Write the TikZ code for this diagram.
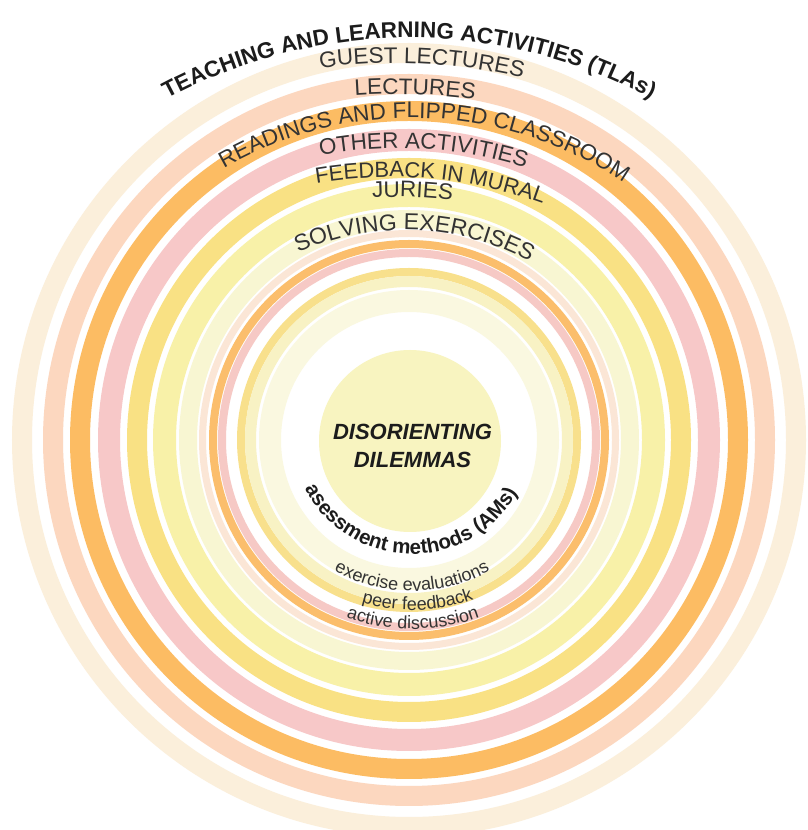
\documentclass[tikz,border=0pt]{standalone}
\usepackage{fontspec}
\setmainfont{Liberation Sans}
\usetikzlibrary{decorations.text}
\definecolor{ringA}{HTML}{FBEFDB}
\definecolor{ringB}{HTML}{FCD7BF}
\definecolor{ringC}{HTML}{FCBC63}
\definecolor{ringD}{HTML}{F7C8C8}
\definecolor{ringE}{HTML}{F9E184}
\definecolor{ringF}{HTML}{F8F1A8}
\definecolor{ringG}{HTML}{F8F6D2}
\definecolor{ringH}{HTML}{FBE6D6}
\definecolor{ringI}{HTML}{FBBE6C}
\definecolor{ringJ}{HTML}{F6C9C5}
\definecolor{ringK}{HTML}{F8E08C}
\definecolor{ringL}{HTML}{F8F2C4}
\definecolor{ringM}{HTML}{FAF8E0}
\definecolor{discc}{HTML}{F8F4C0}
\definecolor{labelc}{HTML}{333333}
\definecolor{titlec}{HTML}{1C1C1C}
\tikzset{
  ringline/.style={line width=#1},
  disclabel/.style={font=\fontsize{22}{28}\selectfont\bfseries\itshape, text=titlec, align=center, inner sep=0pt},
}
\begin{document}
\begin{tikzpicture}[x=1pt,y=1pt]
\useasboundingbox (0,0) rectangle (807,830);
\fill[white] (0,0) rectangle (807,830);
\clip (0,0) rectangle (807,830);
\coordinate (c) at (409,390);
% rings
\draw[ringA, ringline=20] (c) circle[radius=387];
\draw[ringB, ringline=20] (c) circle[radius=356];
\draw[ringC, ringline=20] (c) circle[radius=329];
\draw[ringD, ringline=22] (c) circle[radius=300];
\draw[ringE, ringline=20] (c) circle[radius=272];
\draw[ringF, ringline=23] (c) circle[radius=244.5];
\draw[ringG, ringline=18] (c) circle[radius=221];
\draw[ringH, ringline=7] (c) circle[radius=206.5];
\draw[ringI, ringline=8] (c) circle[radius=196];
\draw[ringJ, ringline=8] (c) circle[radius=187];
\draw[ringK, ringline=8] (c) circle[radius=168];
\draw[ringL, ringline=11] (c) circle[radius=158.5];
\draw[ringM, ringline=22] (c) circle[radius=139];
\node[circle, fill=discc, minimum size=182, inner sep=0pt] (disc) at (410,389) {};
\node[disclabel] (dd) at (412.5,384.5) {DISORIENTING\\DILEMMAS};
% title and top labels
\path[decorate, decoration={text along path, text align=center,
  text={|\fontsize{22.5}{27}\selectfont\bfseries\color{titlec}|TEACHING AND LEARNING ACTIVITIES (TLAs)}}]
  ([shift={(409,281)}]150:511) arc[start angle=150, end angle=30, radius=511];
\path[decorate, decoration={text along path, text align=center,
  text={|\fontsize{22.5}{27}\selectfont\color{labelc}|GUEST LECTURES}}]
  ([shift={(395,217)}]127.2:550) arc[start angle=127.2, end angle=47.2, radius=550];
\path[decorate, decoration={text along path, text align=center,
  text={|\fontsize{22.5}{27}\selectfont\color{labelc}|LECTURES}}]
  ([shift={(395,136)}]128.1:600) arc[start angle=128.1, end angle=48.1, radius=600];
\path[decorate, decoration={text along path, text align=center,
  text={|\fontsize{22.5}{27}\selectfont\color{labelc}|READINGS AND FLIPPED CLASSROOM}}]
  ([shift={(412,334)}]137.9:378) arc[start angle=137.9, end angle=37.9, radius=378];
\path[decorate, decoration={text along path, text align=center,
  text={|\fontsize{22.5}{27}\selectfont\color{labelc}|OTHER ACTIVITIES}}]
  ([shift={(398,262)}]126.5:420) arc[start angle=126.5, end angle=46.5, radius=420];
\path[decorate, decoration={text along path, text align=center,
  text={|\fontsize{22}{27}\selectfont\color{labelc}|FEEDBACK IN MURAL}}]
  ([shift={(390,203)}]124.8:450) arc[start angle=124.8, end angle=44.8, radius=450];
\path[decorate, decoration={text along path, text align=center,
  text={|\fontsize{22.5}{27}\selectfont\color{labelc}|JURIES}}]
  ([shift={(395,183)}]127.8:450) arc[start angle=127.8, end angle=47.8, radius=450];
\path[decorate, decoration={text along path, text align=center,
  text={|\fontsize{23}{27}\selectfont\color{labelc}|SOLVING EXERCISES}}]
  ([shift={(405,340)}]137.8:260) arc[start angle=137.8, end angle=37.8, radius=260];
% bottom labels
\path[decorate, decoration={text along path, text align=center,
  text={|\fontsize{20.5}{24}\selectfont\bfseries\color{titlec}|asessment methods (AMs)}}]
  ([shift={(412,397)}]179:121) arc[start angle=179, end angle=359, radius=121];
\path[decorate, decoration={text along path, text align=center,
  text={|\fontsize{18}{22}\selectfont\color{labelc}|exercise evaluations}}]
  ([shift={(412,400)}]190:161) arc[start angle=190, end angle=350, radius=161];
\path[decorate, decoration={text along path, text align=center,
  text={|\fontsize{18}{22}\selectfont\color{labelc}|peer feedback}}]
  ([shift={(412,400)}]191.9:180) arc[start angle=191.9, end angle=351.9, radius=180];
\path[decorate, decoration={text along path, text align=center,
  text={|\fontsize{18}{22}\selectfont\color{labelc}|active discussion}}]
  ([shift={(412,400)}]190.3:199) arc[start angle=190.3, end angle=350.3, radius=199];
\end{tikzpicture}
\end{document}
